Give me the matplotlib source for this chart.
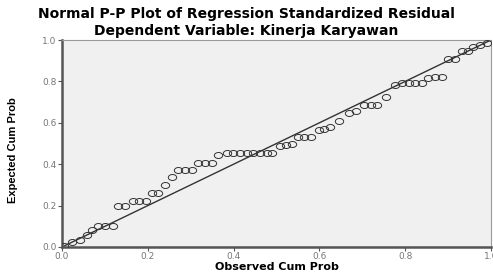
import numpy as np
import matplotlib
matplotlib.use("Agg")
import matplotlib.pyplot as plt
from matplotlib.path import Path

# --- Data ---
observed = [0.004, 0.023, 0.042, 0.058, 0.069, 0.085, 0.100, 0.120, 0.131, 0.147,
            0.165, 0.180, 0.196, 0.209, 0.224, 0.240, 0.256, 0.271, 0.287, 0.302,
            0.318, 0.333, 0.349, 0.364, 0.384, 0.399, 0.415, 0.431, 0.446, 0.462,
            0.477, 0.489, 0.508, 0.522, 0.536, 0.551, 0.565, 0.580, 0.599, 0.611,
            0.625, 0.646, 0.669, 0.685, 0.705, 0.720, 0.734, 0.755, 0.777, 0.793,
            0.808, 0.823, 0.839, 0.854, 0.869, 0.885, 0.900, 0.916, 0.932, 0.946,
            0.959, 0.974, 0.990]
expected = [0.005, 0.026, 0.034, 0.058, 0.082, 0.103, 0.103, 0.103, 0.200, 0.200,
            0.224, 0.224, 0.224, 0.259, 0.259, 0.300, 0.337, 0.372, 0.372, 0.372,
            0.404, 0.404, 0.404, 0.444, 0.453, 0.453, 0.453, 0.453, 0.453, 0.453,
            0.453, 0.453, 0.488, 0.493, 0.498, 0.533, 0.533, 0.533, 0.565, 0.570,
            0.578, 0.610, 0.647, 0.655, 0.686, 0.686, 0.686, 0.726, 0.785, 0.791,
            0.791, 0.791, 0.791, 0.818, 0.823, 0.823, 0.907, 0.907, 0.948, 0.948,
            0.968, 0.976, 0.984]
ticks = [0.0, 0.2, 0.4, 0.6, 0.8, 1.0]
tick_labels = ["0.0", "0.2", "0.4", "0.6", "0.8", "1.0"]

TITLE = "Normal P-P Plot of Regression Standardized Residual"
SUBTITLE = "Dependent Variable: Kinerja Karyawan"

# slightly flattened open circle, like the stretched SPSS output
theta = np.linspace(0, 2 * np.pi, 40)
ellipse = Path(np.column_stack([np.cos(theta), 0.72 * np.sin(theta)]), closed=True)

fig = plt.figure(figsize=(4.93, 2.73), dpi=100)
ax = fig.add_axes([62 / 493, 26 / 273, 429 / 493, 207 / 273])
ax.set_facecolor("#f0f0f0")

# reference diagonal
ax.plot([0, 1], [0, 1], color="#333333", lw=1.0, zorder=2)
ax.plot(observed, expected, linestyle="none", marker=ellipse, markersize=6.0,
        markerfacecolor="none", markeredgecolor="#333333", markeredgewidth=0.7, zorder=3)

ax.set_xlim(0, 1)
ax.set_ylim(0, 1)
ax.set_xticks(ticks)
ax.set_xticklabels(tick_labels)
ax.set_yticks(ticks)
ax.set_yticklabels(tick_labels)
ax.tick_params(axis="both", length=3, width=0.8, color="#555555",
               labelcolor="#777777", labelsize=6.5, pad=1.0)
ax.tick_params(axis="x", pad=0.5)

for side in ["left", "bottom"]:
    ax.spines[side].set_color("#555555")
    ax.spines[side].set_linewidth(1.8)
for side in ["top", "right"]:
    ax.spines[side].set_color("#999999")
    ax.spines[side].set_linewidth(0.8)

fig.text(277 / 493, 1 - 266.5 / 273, "Observed Cum Prob", ha="center", va="center",
         fontsize=8, fontweight="bold", family="DejaVu Sans")
fig.text(13 / 493, 1 - 150 / 273, "Expected Cum Prob", rotation=90, ha="center", va="center",
         fontsize=8, fontweight="bold", family=["Liberation Sans Narrow", "Liberation Sans"])

fig.text(246 / 493, 1 - 14 / 273, TITLE, ha="center", va="center", fontsize=10,
         fontweight="bold", family="DejaVu Sans")
fig.text(246 / 493, 1 - 31 / 273, SUBTITLE, ha="center", va="center", fontsize=10,
         fontweight="bold", family="DejaVu Sans")

fig.savefig("out.png", dpi=100)
